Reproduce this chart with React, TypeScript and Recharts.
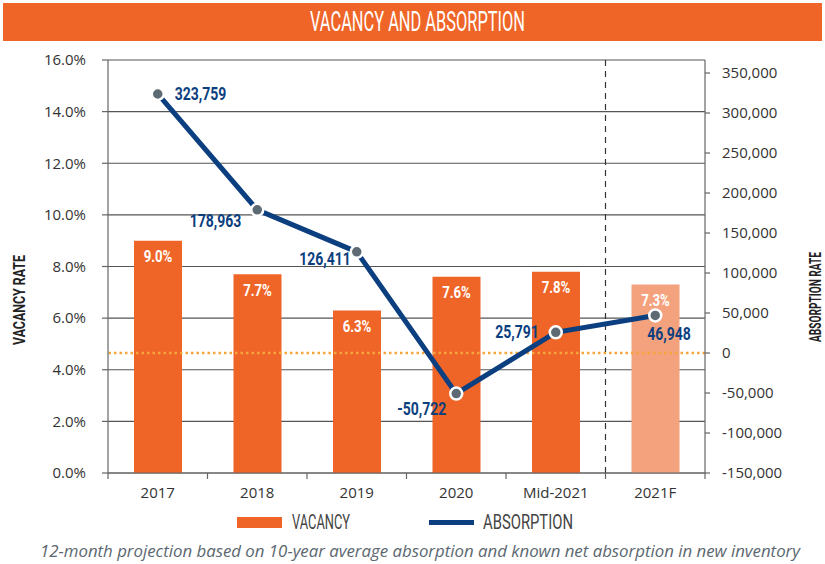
import React from 'react';
import {
  ComposedChart,
  Bar,
  Line,
  XAxis,
  YAxis,
  CartesianGrid,
  ReferenceLine,
  LabelList,
  Cell,
} from 'recharts';

const categories = ['2017', '2018', '2019', '2020', 'Mid-2021', '2021F'];
const vacancy = [9.0, 7.7, 6.3, 7.6, 7.8, 7.3];
const absorption = [323759, 178963, 126411, -50722, 25791, 46948];
const vacancyTicks = [0, 2, 4, 6, 8, 10, 12, 14, 16];
const absorptionTicks = [-150000, -100000, -50000, 0, 50000, 100000, 150000, 200000, 250000, 300000, 350000];

const data = categories.map((c, i) => ({ name: c, vacancy: vacancy[i], absorption: absorption[i] }));

const ORANGE = '#EF6527';
const ORANGE_LIGHT = '#F4A27D';
const NAVY = '#0C3F7F';
const COND = "Roboto, 'Open Sans', sans-serif";
const TICKFONT = "'Open Sans', 'Noto Sans', sans-serif";

const lineLabelPos = [
  { dx: 17, dy: 0, anchor: 'start' },
  { dx: -16, dy: 11, anchor: 'end' },
  { dx: -6, dy: 7, anchor: 'end' },
  { dx: -10, dy: 15, anchor: 'end' },
  { dx: -17, dy: 0, anchor: 'end' },
  { dx: -8, dy: 18, anchor: 'start' },
];

const XTick = (props: any) => {
  const { x, y, payload, index, width } = props;
  const band = (width ?? 597) / categories.length;
  const half = band / 2;
  return (
    <g>
      <line x1={x - half} x2={x - half} y1={y} y2={y + 6} stroke="#666" strokeWidth={1.2} />
      {index === categories.length - 1 && (
        <line x1={x + half} x2={x + half} y1={y} y2={y + 6} stroke="#666" strokeWidth={1.2} />
      )}
      <text x={x} y={y + 25} textAnchor="middle" fill="#333" fontSize={15} fontFamily={TICKFONT}>
        {payload.value}
      </text>
    </g>
  );
};

const Dot = (props: any) => {
  const { cx, cy } = props;
  if (cx == null || cy == null) return null;
  return <circle cx={cx} cy={cy} r={6} fill="#5D6A73" stroke="#fff" strokeWidth={2.5} />;
};

const LineLabel = (props: any) => {
  const { x, y, value, index } = props;
  const p = lineLabelPos[index] || { dx: 0, dy: -12, anchor: 'middle' };
  return (
    <g transform={`translate(${x + p.dx},${y + p.dy}) scale(0.8,1)`}>
      <text
        x={0}
        y={0}
        textAnchor={p.anchor}
        dominantBaseline="central"
        fill={NAVY}
        fontSize={17.5}
        fontWeight="bold"
        fontFamily={COND}
      >
        {Number(value).toLocaleString('en-US')}
      </text>
    </g>
  );
};

const BarLabel = (props: any) => {
  const { x, y, width, value } = props;
  return (
    <g transform={`translate(${x + width / 2},${y + 16}) scale(0.8,1)`}>
      <text
        x={0}
        y={0}
        textAnchor="middle"
        dominantBaseline="central"
        fill="#fff"
        fontSize={16.5}
        fontWeight="bold"
        fontFamily={COND}
      >
        {Number(value).toFixed(1) + '%'}
      </text>
    </g>
  );
};

export default function App() {
  return (
    <div
      style={{
        position: 'absolute',
        left: 0,
        top: 0,
        width: 825,
        height: 564,
        background: '#fff',
        overflow: 'hidden',
      }}
    >
      <div style={{ position: 'absolute', left: 0, top: 0 }}>
        <ComposedChart
          width={825}
          height={564}
          data={data}
          margin={{ top: 60, right: 30, bottom: 61, left: 48 }}
        >
          <CartesianGrid yAxisId="left" vertical={false} stroke="#555" strokeWidth={1.2} />
          <XAxis
            dataKey="name"
            height={30}
            tickLine={false}
            tickSize={0}
            tickMargin={0}
            axisLine={{ stroke: '#666', strokeWidth: 1.2 }}
            tick={<XTick />}
            interval={0}
          />
          <YAxis
            yAxisId="left"
            orientation="left"
            width={60}
            domain={[0, 16]}
            ticks={vacancyTicks}
            tickFormatter={(v: number) => v.toFixed(1) + '%'}
            tickSize={6}
            tickMargin={16}
            tick={{ fill: '#333', fontSize: 15, fontFamily: TICKFONT }}
            axisLine={{ stroke: '#666', strokeWidth: 1.2 }}
            tickLine={{ stroke: '#666', strokeWidth: 1.2 }}
            allowDataOverflow
          />
          <YAxis
            yAxisId="right"
            orientation="right"
            width={90}
            domain={[-150000, 366250]}
            ticks={absorptionTicks}
            tickFormatter={(v: number) => v.toLocaleString('en-US')}
            tickSize={5}
            tickMargin={12}
            tick={{ fill: '#333', fontSize: 15, fontFamily: TICKFONT, textAnchor: 'start' }}
            axisLine={{ stroke: '#666', strokeWidth: 1.2 }}
            tickLine={{ stroke: '#666', strokeWidth: 1.2 }}
            allowDataOverflow
          />
          <Bar yAxisId="left" dataKey="vacancy" barSize={48} isAnimationActive={false}>
            {data.map((d, i) => (
              <Cell key={d.name} fill={i === data.length - 1 ? ORANGE_LIGHT : ORANGE} />
            ))}
            <LabelList dataKey="vacancy" content={<BarLabel />} />
          </Bar>
          <ReferenceLine
            yAxisId="right"
            y={0}
            stroke="#F6A53C"
            strokeWidth={2.5}
            strokeDasharray="2.5 3"
          />
          <ReferenceLine
            yAxisId="left"
            x="Mid-2021"
            position="end"
            stroke="#333"
            strokeWidth={1.2}
            strokeDasharray="6 5"
          />
          <Line
            yAxisId="right"
            dataKey="absorption"
            stroke={NAVY}
            strokeWidth={5}
            dot={<Dot />}
            activeDot={false}
            isAnimationActive={false}
          >
            <LabelList dataKey="absorption" content={<LineLabel />} />
          </Line>
        </ComposedChart>
      </div>
      <svg
        width={825}
        height={564}
        style={{ position: 'absolute', left: 0, top: 0, pointerEvents: 'none' }}
      >
        <rect x={3} y={3} width={819} height={38} fill={ORANGE} />
        <text
          x={310}
          y={31}
          fill="#fff"
          fontFamily={COND}
          fontSize={27}
          textLength={215}
          lengthAdjust="spacingAndGlyphs"
        >
          VACANCY AND ABSORPTION
        </text>
        <text
          x={25}
          y={345}
          transform="rotate(-90 25 345)"
          fill="#222"
          fontFamily={COND}
          fontWeight="bold"
          fontSize={17}
          textLength={90}
          lengthAdjust="spacingAndGlyphs"
        >
          VACANCY RATE
        </text>
        <text
          x={821}
          y={342}
          transform="rotate(-90 821 342)"
          fill="#222"
          fontFamily={COND}
          fontWeight="bold"
          fontSize={16}
          textLength={90}
          lengthAdjust="spacingAndGlyphs"
        >
          ABSORPTION RATE
        </text>
        <rect x={237} y={517} width={45} height={11} fill={ORANGE} />
        <text
          x={292}
          y={529}
          fill="#444"
          fontFamily={COND}
          fontSize={19.5}
          textLength={58}
          lengthAdjust="spacingAndGlyphs"
        >
          VACANCY
        </text>
        <rect x={429} y={520} width={45} height={5} fill={NAVY} />
        <text
          x={483}
          y={529}
          fill="#444"
          fontFamily={COND}
          fontSize={19.5}
          textLength={90}
          lengthAdjust="spacingAndGlyphs"
        >
          ABSORPTION
        </text>
        <text
          x={40}
          y={557}
          fill="#5B6770"
          fontFamily={TICKFONT}
          fontStyle="italic"
          fontSize={16.5}
          textLength={760}
          lengthAdjust="spacingAndGlyphs"
        >
          12-month projection based on 10-year average absorption and known net absorption in new inventory
        </text>
      </svg>
    </div>
  );
}
